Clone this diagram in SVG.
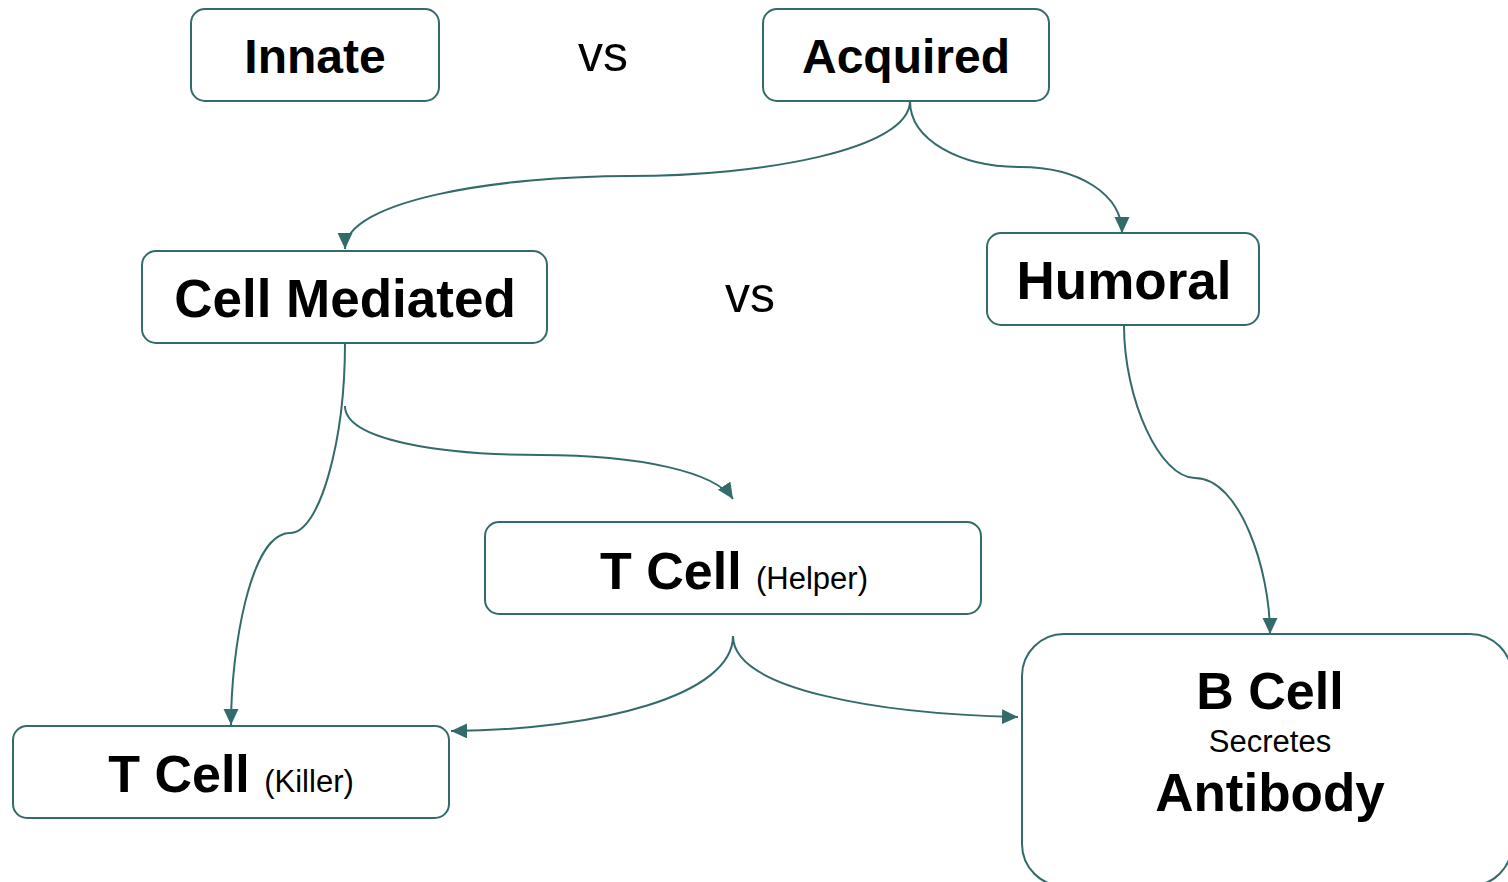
<svg xmlns="http://www.w3.org/2000/svg" width="1508" height="882" viewBox="0 0 1508 882">
<style>
.box{fill:#fff;stroke:#336b6b;stroke-width:2}
.edge{fill:none;stroke:#336b6b;stroke-width:2}
.b{font-family:"Liberation Sans",Arial,sans-serif;font-weight:bold;fill:#000;text-anchor:middle}
.r{font-family:"Liberation Sans",Arial,sans-serif;fill:#000;text-anchor:middle}
</style>
<defs>
<marker id="ah" markerUnits="userSpaceOnUse" markerWidth="18" markerHeight="16" refX="16" refY="7.5" orient="auto">
<path d="M0,0 L16,7.5 L0,15 Z" fill="#336b6b"/>
</marker>
</defs>
<rect width="1508" height="882" fill="#fff"/>
<g id="edges">
<path class="edge" marker-end="url(#ah)" d="M910,101 C910,150 760,176 630,176 C500,176 345,200 345,249"/>
<path class="edge" marker-end="url(#ah)" d="M910,101 C910,140 960,167 1020,167 C1080,167 1122,195 1122,233"/>
<path class="edge" marker-end="url(#ah)" d="M345,343 C345,440 320,533 290,533 C250,533 231,650 231,725"/>
<path class="edge" marker-end="url(#ah)" d="M345,406 C345,440 440,455 540,455 C640,455 715,472 733,499"/>
<path class="edge" marker-end="url(#ah)" d="M733,636 C733,695 600,730 451,731"/>
<path class="edge" marker-end="url(#ah)" d="M733,636 C733,690 880,714 1018,717"/>
<path class="edge" marker-end="url(#ah)" d="M1124,325 C1124,400 1160,478 1195,478 C1240,478 1270,570 1270,634"/>
</g>
<g id="innate">
<rect class="box" x="191" y="9" width="248" height="92" rx="14"/>
<text class="b" x="315" y="73" font-size="48">Innate</text>
</g>
<text id="vs1" class="r" x="603" y="71" font-size="50">vs</text>
<g id="acquired">
<rect class="box" x="763" y="9" width="286" height="92" rx="14"/>
<text class="b" x="906" y="73" font-size="48">Acquired</text>
</g>
<g id="cell-mediated">
<rect class="box" x="142" y="251" width="405" height="92" rx="14"/>
<text class="b" x="345" y="317" font-size="53">Cell Mediated</text>
</g>
<text id="vs2" class="r" x="750" y="312" font-size="50">vs</text>
<g id="humoral">
<rect class="box" x="987" y="233" width="272" height="92" rx="14"/>
<text class="b" x="1124" y="299" font-size="53">Humoral</text>
</g>
<g id="t-helper">
<rect class="box" x="485" y="522" width="496" height="92" rx="14"/>
<text class="b" x="734" y="589" font-size="52">T Cell <tspan font-weight="normal" font-size="31">(Helper)</tspan></text>
</g>
<g id="t-killer">
<rect class="box" x="13" y="726" width="436" height="92" rx="14"/>
<text class="b" x="231" y="792" font-size="52">T Cell <tspan font-weight="normal" font-size="31">(Killer)</tspan></text>
</g>
<g id="b-cell">
<rect class="box" x="1022" y="634" width="490" height="252" rx="42"/>
<text class="b" x="1270" y="709" font-size="52">B Cell</text>
<text class="r" x="1270" y="752" font-size="31">Secretes</text>
<text class="b" x="1270" y="811" font-size="53">Antibody</text>
</g>
</svg>
